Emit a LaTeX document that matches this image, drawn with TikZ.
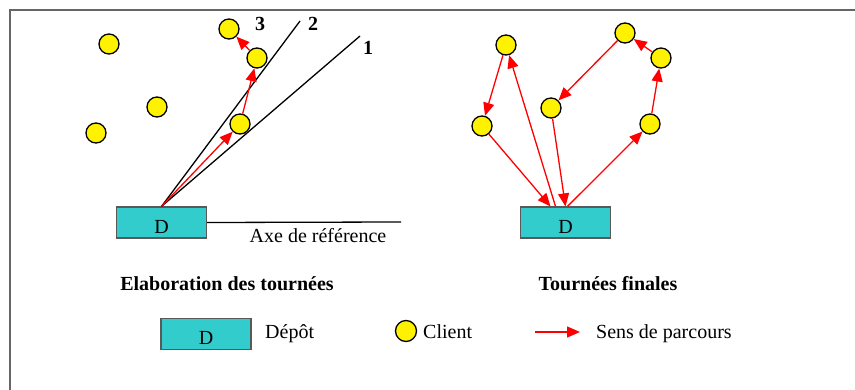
\documentclass[tikz,border=0pt]{standalone}
\usepackage{fontspec}
\setmainfont{Liberation Serif}
\usetikzlibrary{arrows.meta}
\definecolor{depotcyan}{HTML}{33CCCC}
\tikzstyle{every node}+=[inner sep=0pt]
\tikzstyle{client}=[circle, draw=black, line width=1.3pt, fill=yellow, minimum size=20pt]
\tikzstyle{depot}=[rectangle, draw=black!65, line width=1.2pt, fill=depotcyan, minimum width=90pt, minimum height=31pt, text height=22pt]
\tikzstyle{route}=[red, line width=1.3pt, -{Triangle[length=13pt,width=11pt]}]

\begin{document}
\begin{tikzpicture}[x=1pt,y=-1pt,font=\fontsize{20}{24}\selectfont]
\useasboundingbox (0,0) rectangle (855,390);
\draw [black!60, line width=2pt] (855,10) -- (10,10) -- (10,390);

% elaboration des tournees
\node [depot] (dl) at (161.5,222.5) {D};
\node [client] (a1) at (109,44) {};
\node [client] (a2) at (157,107) {};
\node [client] (a3) at (96,133) {};
\node [client] (a4) at (229,29) {};
\node [client] (a5) at (257,58) {};
\node [client] (a6) at (240,124) {};

\coordinate (r1) at (360,36);
\coordinate (r2) at (300,21);
\coordinate (axe) at (401,222);
\draw [black, line width=1.3pt] (dl.north) -- (r1);
\draw [black, line width=1.3pt] (dl.north) -- (r2);
\draw [black, line width=1.3pt] (dl.east) -- (axe);
\node [anchor=base] (n1) at (368,55) {\textbf{1}};
\node [anchor=base] (n2) at (313,31) {\textbf{2}};
\node [anchor=base] (n3) at (260,31) {\textbf{3}};
\node [anchor=base] (axelbl) at (318,243) {Axe de référence};

\draw [route] (dl.north) -- (a6);
\draw [route] (a6) -- (a5);
\draw [route] (a5) -- (a4);

% tournees finales
\node [depot] (dr) at (565.5,222.5) {D};
\node [client] (b1) at (506,45) {};
\node [client] (b2) at (482,126) {};
\node [client] (b3) at (551,108) {};
\node [client] (b4) at (625,33) {};
\node [client] (b5) at (661,58) {};
\node [client] (b6) at (650,124) {};

\draw [route] (b1) -- (b2);
\draw [route] (b2) -- ([xshift=-15pt]dr.north);
\draw [route] ([xshift=-10pt]dr.north) -- (b1);
\draw [route] (b3) -- (dr.north);
\draw [route] (b4) -- (b3);
\draw [route] ([xshift=2pt]dr.north) -- (b6);
\draw [route] (b6) -- (b5);
\draw [route] (b5) -- (b4);

% titres
\node [anchor=base, font=\fontsize{20}{24}\selectfont\bfseries] (t1) at (227,291) {Elaboration des tournées};
\node [anchor=base, font=\fontsize{20}{24}\selectfont\bfseries] (t2) at (608,291) {Tournées finales};

% legende
\node [depot] (ld) at (206,334) {D};
\node [anchor=base west] (ldtxt) at (265,339) {Dépôt};
\node [client, minimum size=21pt] (lc) at (406,331) {};
\node [anchor=base west] (lctxt) at (423,339) {Client};
\coordinate (la) at (535,332);
\coordinate (lb) at (580,332);
\draw [route] (la) -- (lb);
\node [anchor=base west] (latxt) at (596,339) {Sens de parcours};
\end{tikzpicture}
\end{document}
